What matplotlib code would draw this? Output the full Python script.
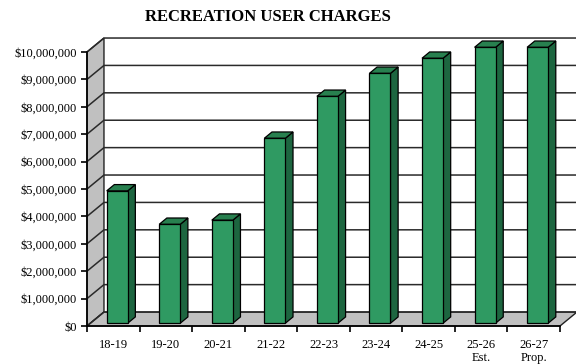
import matplotlib.pyplot as plt
from matplotlib.patches import Polygon

plt.rcParams['font.family'] = ['Liberation Serif', 'DejaVu Serif']

years = ['18-19', '19-20', '20-21', '21-22', '22-23', '23-24', '24-25',
         '25-26\nEst.', '26-27\nProp.']
charges = [4830000, 3610000, 3760000, 6750000, 8280000, 9120000, 9670000,
           10070000, 10070000]
yticks = list(range(0, 10000001, 1000000))

# depth of the box (in category units / dollars)
dx, dy = 0.323, 510000
front_t, back_t = 0.2, 0.65
bar_lo, bar_hi = 0.31, 0.71

front_col = '#2f9a62'
side_col = '#1d6640'
top_col = '#28804f'
wall_col = '#c0c0c0'

fig = plt.figure(figsize=(5.76, 3.64), dpi=100)
ax = fig.add_axes([87 / 576, 38 / 364, 473 / 576, 274 / 364])
n = len(years)
top = yticks[-1]
ax.set_xlim(0, n)
ax.set_ylim(0, top)

# back wall, side wall and floor
ax.add_patch(Polygon([(dx, dy), (n + dx, dy), (n + dx, top + dy), (dx, top + dy)],
                     closed=True, fc='white', ec='none', clip_on=False, zorder=0))
ax.add_patch(Polygon([(0, 0), (dx, dy), (dx, top + dy), (0, top)],
                     closed=True, fc=wall_col, ec='#222222', lw=1, clip_on=False, zorder=1))
ax.add_patch(Polygon([(0, 0), (n, 0), (n + dx, dy), (dx, dy)],
                     closed=True, fc=wall_col, ec='#222222', lw=1, clip_on=False, zorder=1))

# gridlines running across the side wall and back wall
for v in yticks:
    ax.plot([0, dx, n + dx], [v, v + dy, v + dy], color='#2a2a2a', lw=1.1,
            clip_on=False, zorder=2)

# bars: front, right side and top faces
for i, v in enumerate(charges):
    x0, x1 = i + bar_lo, i + bar_hi
    fx, fy = front_t * dx, front_t * dy
    bx, by = back_t * dx, back_t * dy
    ax.add_patch(Polygon([(x1 + fx, fy), (x1 + bx, by), (x1 + bx, v + by), (x1 + fx, v + fy)],
                         closed=True, fc=side_col, ec='black', lw=0.9, clip_on=False, zorder=3))
    ax.add_patch(Polygon([(x0 + fx, v + fy), (x1 + fx, v + fy), (x1 + bx, v + by), (x0 + bx, v + by)],
                         closed=True, fc=top_col, ec='black', lw=0.9, clip_on=False, zorder=3))
    ax.add_patch(Polygon([(x0 + fx, fy), (x1 + fx, fy), (x1 + fx, v + fy), (x0 + fx, v + fy)],
                         closed=True, fc=front_col, ec='black', lw=0.9, clip_on=False, zorder=4))

for s in ['top', 'right']:
    ax.spines[s].set_visible(False)
for s in ['left', 'bottom']:
    ax.spines[s].set_linewidth(1.2)
    ax.spines[s].set_zorder(5)

ax.set_yticks(yticks)
ax.set_yticklabels(['$' + f'{v:,}' for v in yticks], fontsize=9)
ax.set_xticks(range(n + 1))
ax.set_xticklabels([])
ax.set_xticks([i + 0.5 for i in range(n)], minor=True)
ax.set_xticklabels(years, minor=True, fontsize=9, linespacing=1.15)
ax.tick_params(axis='both', which='major', direction='out', length=4, width=1.2)
ax.tick_params(axis='x', which='minor', length=0, pad=9)
ax.patch.set_visible(False)

fig.text(0.466, 0.953, 'RECREATION USER CHARGES', ha='center', va='center',
         fontsize=12, fontweight='bold')

fig.savefig('out.png', dpi=100)
